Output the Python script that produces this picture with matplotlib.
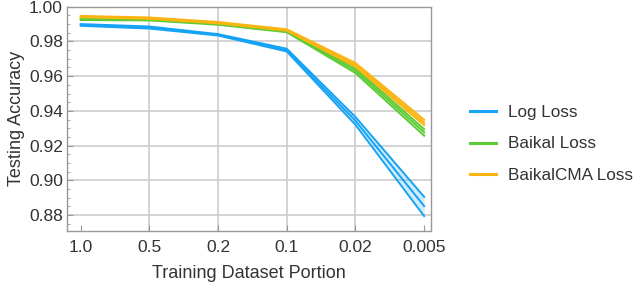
import matplotlib
matplotlib.use("Agg")
import matplotlib.pyplot as plt
from matplotlib.ticker import MultipleLocator, FixedLocator
import numpy as np

plt.rcParams['font.family'] = ['Liberation Sans', 'DejaVu Sans']

portions = ["1.0", "0.5", "0.2", "0.1", "0.02", "0.005"]

log_mean = [0.9895, 0.9880, 0.9838, 0.9750, 0.9343, 0.8852]
log_upper = [0.9900, 0.9886, 0.9842, 0.9758, 0.9365, 0.8905]
log_lower = [0.9890, 0.9874, 0.9834, 0.9742, 0.9320, 0.8794]

baikal_mean = [0.9927, 0.9925, 0.9900, 0.9857, 0.9632, 0.9277]
baikal_upper = [0.9931, 0.9929, 0.9904, 0.9861, 0.9645, 0.9295]
baikal_lower = [0.9923, 0.9921, 0.9896, 0.9853, 0.9618, 0.9257]

cma_mean = [0.9943, 0.9934, 0.9908, 0.9866, 0.9665, 0.9333]
cma_upper = [0.9947, 0.9938, 0.9912, 0.9870, 0.9676, 0.9349]
cma_lower = [0.9939, 0.9930, 0.9904, 0.9862, 0.9654, 0.9318]

labels = ["Log Loss", "Baikal Loss", "BaikalCMA Loss"]
colors = ["#17a3f5", "#5dcc34", "#fbb512"]

fig = plt.figure(figsize=(6.4, 2.88), dpi=100)
ax = fig.add_axes([67/640, 1 - 230.7/288, (431-67)/640, (230.7-6.7)/288])

x = np.arange(len(portions))
series = [(log_mean, log_upper, log_lower), (baikal_mean, baikal_upper, baikal_lower),
          (cma_mean, cma_upper, cma_lower)]
for (m, u, l), c, lab in zip(series, colors, labels):
    ax.fill_between(x, l, u, color=c, alpha=0.2, lw=0)
    ax.plot(x, u, color=c, lw=1.4)
    ax.plot(x, l, color=c, lw=1.4)
    ax.plot(x, m, color=c, lw=1.4, label=lab)

ax.set_xlim(-0.2, 5.1)
ax.set_ylim(0.871, 1.0)
ax.set_xticks(x)
ax.set_xticklabels(portions)
ax.yaxis.set_major_locator(FixedLocator([0.88, 0.90, 0.92, 0.94, 0.96, 0.98, 1.00]))
ax.yaxis.set_major_formatter(matplotlib.ticker.FuncFormatter(lambda v, p: f"{v:.2f}"))
ax.yaxis.set_minor_locator(MultipleLocator(0.005))

for gx in [1, 2, 3, 4]:
    ax.axvline(gx, color="#cccccc", lw=1.2, zorder=0)
for gy in [0.88, 0.90, 0.92, 0.94, 0.96, 0.98]:
    ax.axhline(gy, color="#cccccc", lw=1.2, zorder=0)

for s in ax.spines.values():
    s.set_color("#999999")
    s.set_linewidth(1.0)
ax.tick_params(axis='both', direction='in', colors="#999999", labelcolor="#333333",
               labelsize=12.5, length=4, width=0.8)
ax.tick_params(axis='y', which='minor', direction='in', colors="#999999", length=2, width=0.6)
ax.tick_params(axis='x', pad=7)
ax.tick_params(axis='y', pad=3)

ax.set_xlabel("Training Dataset Portion", fontsize=13, color="#333333", labelpad=7)
ax.set_ylabel("Testing Accuracy", fontsize=13, color="#333333", labelpad=3)

leg = fig.legend(loc='center left', bbox_to_anchor=(470/640, 1 - 144/288), frameon=False,
                 fontsize=12.3, handlelength=1.55, labelspacing=0.95, handletextpad=0.7,
                 borderpad=0, borderaxespad=0)
for t in leg.get_texts():
    t.set_color("#333333")
for h in leg.get_lines():
    h.set_linewidth(2.2)

fig.savefig("out.png", dpi=100)
